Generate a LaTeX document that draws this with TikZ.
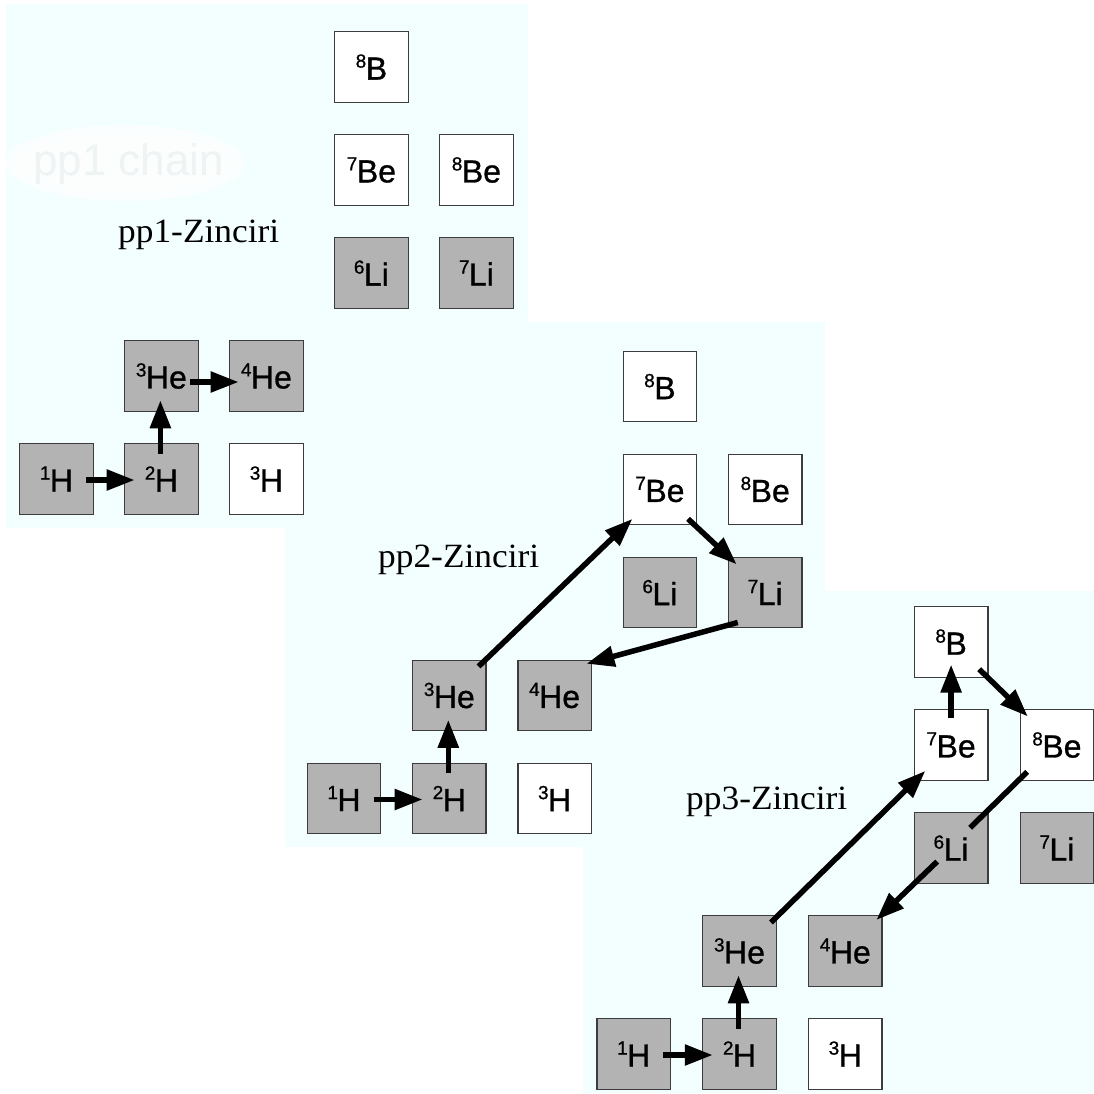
\documentclass[tikz,border=0pt]{standalone}
\usepackage{fontspec}
\setmainfont{Liberation Sans}
\newfontfamily\nucfont[FakeBold=0.9]{Liberation Sans}
\newfontfamily\labelfont{Liberation Serif}
\usetikzlibrary{arrows.meta,calc}

\definecolor{panelbg}{HTML}{F3FEFE}
\definecolor{boxgray}{HTML}{B3B3B3}
\definecolor{boxline}{HTML}{3C3C3C}
\definecolor{ghost}{HTML}{EEF3F3}

\tikzset{
  nuc/.style={draw=boxline, line width=1.3pt, minimum width=73.5pt,
    minimum height=70.5pt, inner sep=0pt, outer sep=0pt,
    font=\nucfont\fontsize{32}{32}\selectfont},
  stable/.style={nuc, fill=boxgray},
  unstable/.style={nuc, fill=white},
  flow/.style={line width=5.5pt, -{Triangle[length=28pt,width=20pt]}},
  flowline/.style={line width=5.5pt},
  chainlabel/.style={font=\labelfont\fontsize{34}{34}\selectfont,
    anchor=base west, inner sep=0pt},
  panel/.style={fill=panelbg, draw=none},
}

% isotope label: mass number as a raised small digit
\newcommand\iso[2]{\raisebox{12pt}{\fontsize{19}{19}\selectfont #1}\kern-0.5pt#2}

% one chart of light nuclei: #1 name prefix, #2/#3 centre of 1H, #4 column pitch
\newcommand\nucpanel[4]{%
  \node[stable]   (#1h1)  at ({#2},{#3})                {\iso{1}{H}};
  \node[stable]   (#1h2)  at ({#2+#4},{#3})             {\iso{2}{H}};
  \node[unstable] (#1h3)  at ({#2+2*#4},{#3})           {\iso{3}{H}};
  \node[stable]   (#1he3) at ({#2+#4},{#3-103})         {\iso{3}{He}};
  \node[stable]   (#1he4) at ({#2+2*#4},{#3-103})       {\iso{4}{He}};
  \node[stable]   (#1li6) at ({#2+3*#4},{#3-206})       {\iso{6}{Li}};
  \node[stable]   (#1li7) at ({#2+4*#4},{#3-206})       {\iso{7}{Li}};
  \node[unstable] (#1be7) at ({#2+3*#4},{#3-309})       {\iso{7}{Be}};
  \node[unstable] (#1be8) at ({#2+4*#4},{#3-309})       {\iso{8}{Be}};
  \node[unstable] (#1b8)  at ({#2+3*#4},{#3-412})       {\iso{8}{B}};
  \draw[flow] ($(#1h1.east)+(-7,1)$) -- ($(#1h2.west)+(10,1)$);
  \draw[flow] ($(#1h2.north)+(-1,10)$) -- ($(#1he3.south)+(-1,-11)$);
}

\begin{document}
\begin{tikzpicture}[x=1pt,y=-1pt]
\useasboundingbox (0,0) rectangle (1094,1093);
\fill[white] (0,0) rectangle (1094,1093);

% background panels
\fill[panel] (6,4) rectangle (528,528);
\fill[panel] (285,322) rectangle (825,847);
\fill[panel] (583,591) rectangle (1094,1093);

% faded caption
\fill[white, opacity=0.6] (125,163) ellipse [x radius=120, y radius=38];
\fill[white, opacity=0.5] (125,163) ellipse [x radius=108, y radius=30];
\node[font=\fontsize{44}{44}\selectfont, text=ghost, anchor=base west,
  inner sep=0pt] (ghostcap) at (33,175) {pp1 chain};

% chain names
\node[chainlabel] (lab1) at (118,242) {\scalebox{1.04}[1]{pp1-Zinciri}};
\node[chainlabel] (lab2) at (378,567) {\scalebox{1.04}[1]{pp2-Zinciri}};
\node[chainlabel] (lab3) at (686,809) {\scalebox{1.04}[1]{pp3-Zinciri}};

% pp1
\nucpanel{a}{56.4}{479}{105}
\draw[flow] ($(ahe3.east)+(-8,6)$) -- ($(ahe4.west)+(9,6)$);

% pp2
\nucpanel{b}{344}{798.5}{105.3}
\draw[flow] ($(bhe3.north east)+(-7.5,6.2)$) -- ($(bbe7.south west)+(9.3,-5.9)$);
\draw[flow] ($(bbe7.south east)+(-8.6,-5.9)$) -- ($(bli7.north west)+(8.2,7.1)$);
\draw[flow] ($(bli7.south west)+(9.3,-5.3)$) -- ($(bhe4.north east)+(-4.9,3.5)$);

% pp3
\nucpanel{c}{633.7}{1054}{105.8}
\draw[flow] ($(che3.north east)+(-5.3,6.7)$) -- ($(cbe7.south west)+(11,-9.4)$);
\draw[flow] ($(cbe7.north)+(0,8.2)$) -- ($(cb8.south)+(0,-12.7)$);
\draw[flow] ($(cb8.south east)+(-8.7,-8.1)$) -- ($(cbe8.north west)+(7.7,6.7)$);
\draw[flowline] ($(cbe8.south west)+(7,-8.4)$) -- ($(cli6.north east)+(-17.7,15)$);
\draw[flow] ($(cli6.south west)+(22.8,-21.7)$) -- ($(che4.north east)+(-5.7,4.2)$);
\end{tikzpicture}
\end{document}
